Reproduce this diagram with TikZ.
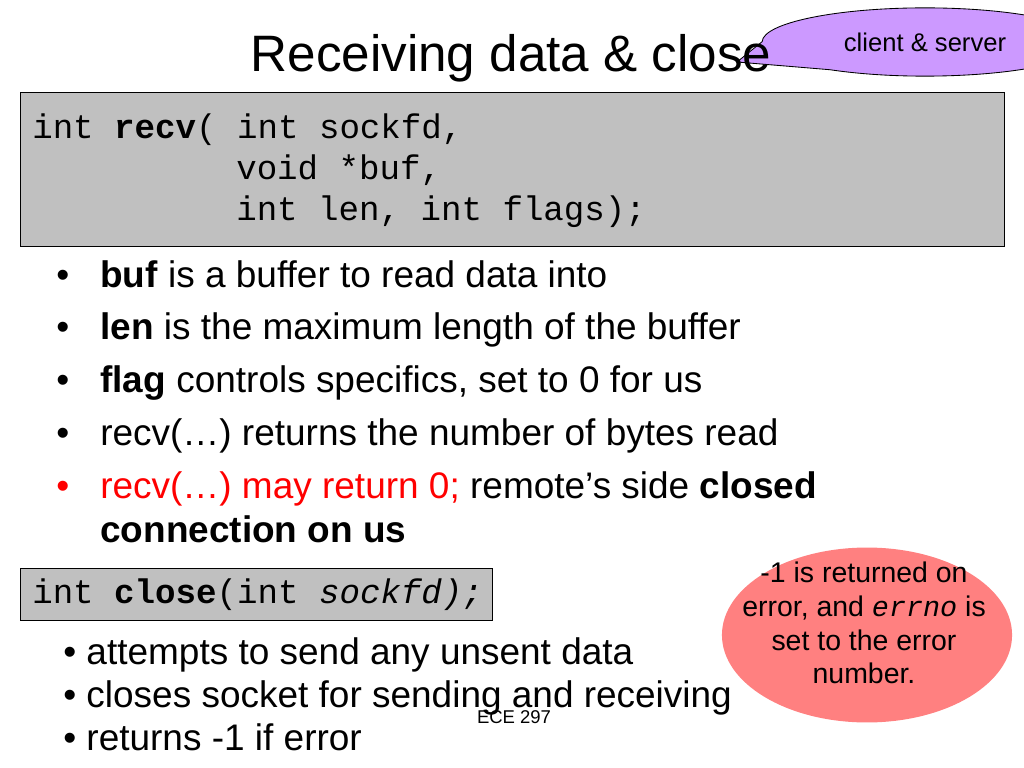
\documentclass[tikz,border=0pt]{standalone}
\usepackage{fontspec}
\setmainfont{Liberation Sans}
\setmonofont{Liberation Mono}
\usepackage{tikz}
\usetikzlibrary{shapes.geometric,shapes.callouts}
\definecolor{codegray}{RGB}{192,192,192}
\definecolor{notepink}{RGB}{255,128,128}
\definecolor{tagpurple}{RGB}{204,153,255}

\begin{document}
\begin{tikzpicture}[x=0.703125pt,y=-0.703125pt,
    codebox/.style={draw=black,line width=0.7pt,fill=codegray},
    codeline/.style={anchor=base west,inner sep=0pt,font=\ttfamily\fontsize{24}{28}\selectfont},
    item/.style={anchor=base west,inner sep=0pt,font=\fontsize{26}{31}\selectfont}]
    \useasboundingbox (0,0) rectangle (1024,768);

    % tag in the corner
    \coordinate (tagtip) at (737,62);
    \node[ellipse callout,draw=black,line width=0.6pt,fill=tagpurple,minimum width=229pt,minimum height=48pt,inner sep=0pt,
        callout absolute pointer={(tagtip)},callout pointer arc=55,font=\fontsize{18}{22}\selectfont] (roles) at (925,42) {client \& server};
    \node[anchor=base,inner sep=0pt,font=\fontsize{36}{43}\selectfont] (title) at (511,72) {Receiving data \& close};

    % recv prototype
    \draw[codebox] (20,93) rectangle (1004,246);
    \node[codeline] (recvA) at (32,139) {int \textbf{recv}( int sockfd,};
    \node[codeline] (recvB) at (236,180) {void *buf,};
    \node[codeline] (recvC) at (236,221) {int len, int flags);};

    \node[item] (dotA) at (56,287) {•};
    \node[item] (bufA) at (100,287) {\textbf{buf} is a buffer to read data into};
    \node[item] (dotB) at (56,340) {•};
    \node[item] (lenB) at (100,340) {\textbf{len} is the maximum length of the buffer};
    \node[item] (dotC) at (56,392) {•};
    \node[item] (flagC) at (100,392) {\textbf{flag} controls specifics, set to 0 for us};
    \node[item] (dotD) at (56,445) {•};
    \node[item] (retD) at (100,445) {recv(…) returns the number of bytes read};
    \node[item,red] (dotE) at (56,498) {•};
    \node[item] (zeroE) at (100,498) {\textcolor{red}{recv(…) may return 0;} remote’s side \textbf{closed}};
    \node[item] (zeroF) at (100,542) {\textbf{connection on us}};

    % close prototype
    \draw[codebox] (20,568) rectangle (492,620);
    \node[codeline] (closeA) at (32,603) {int \textbf{close}(int \textit{sockfd);}};

    \node[item] (sendA) at (63,664) {• attempts to send any unsent data};
    \node[item] (sendB) at (63,707) {• closes socket for sending and receiving};
    \node[item] (sendC) at (63,750) {• returns -1 if error};

    % error note
    \node[ellipse,fill=notepink,minimum width=204pt,minimum height=123pt] (errnote) at (867,635) {};
    \node[align=center,inner sep=0pt,font=\fontsize{20}{23.7}\selectfont] (errtext) at (864,623)
        {-1 is returned on\\error, and \texttt{\textit{errno}} is\\set to the error\\number.};

    \node[inner sep=0pt,font=\fontsize{13}{15}\selectfont] (footer) at (514,717) {ECE 297};
\end{tikzpicture}
\end{document}
